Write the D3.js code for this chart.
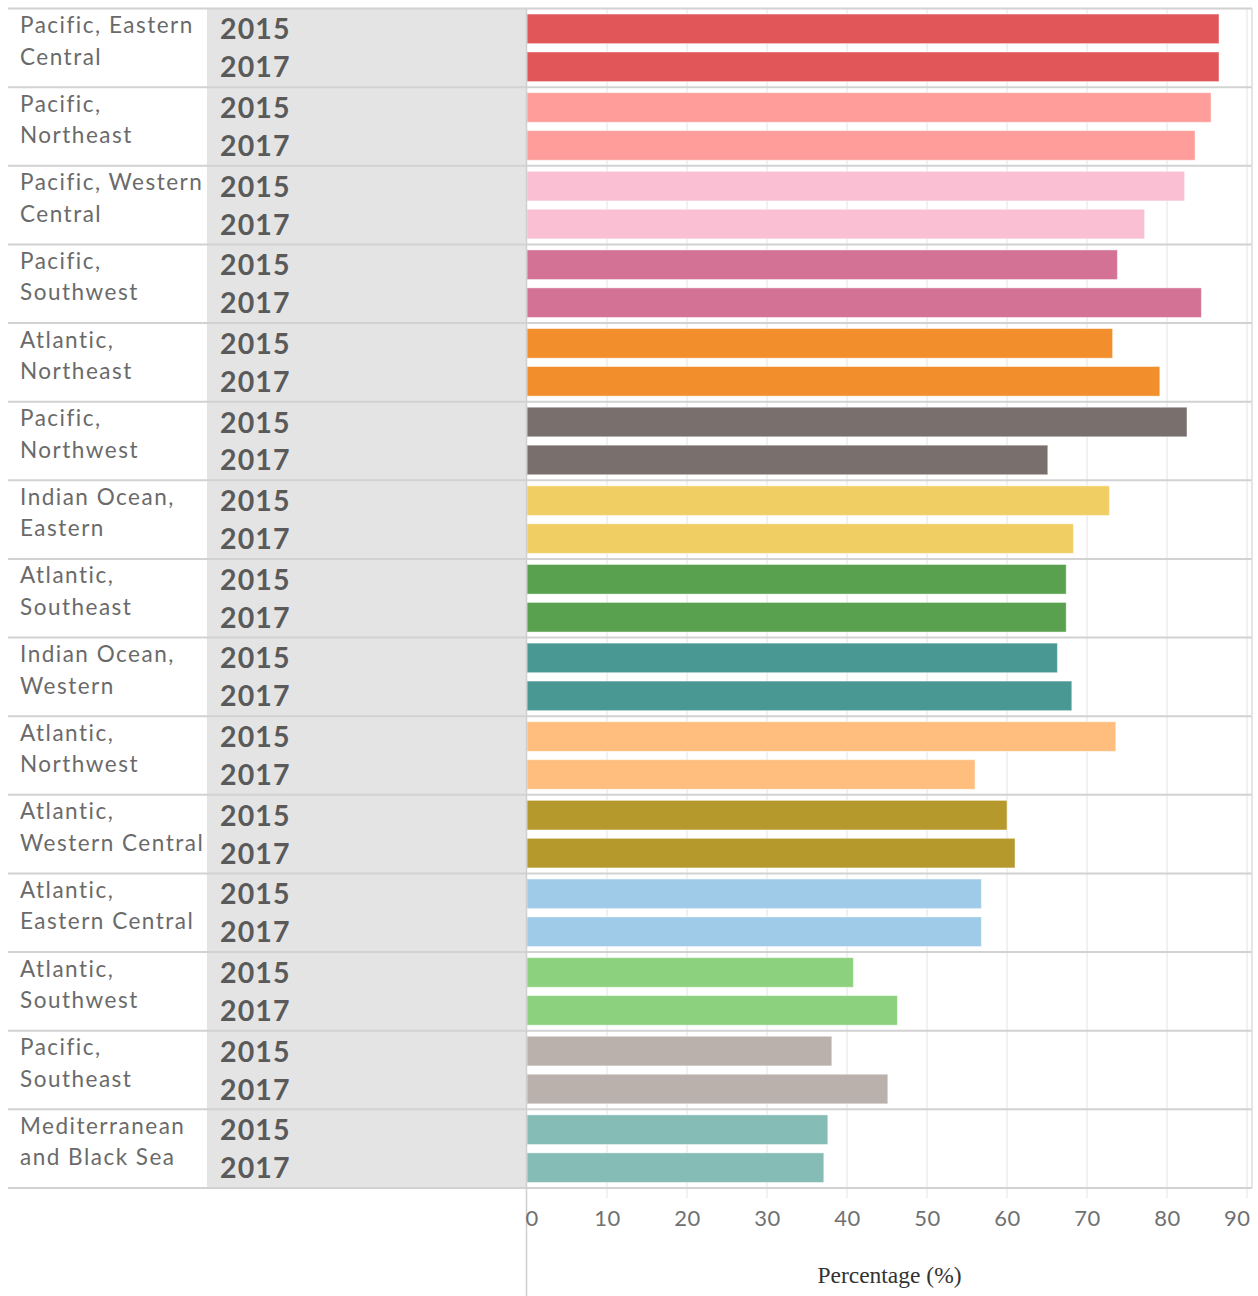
<!DOCTYPE html>
<html>
<head>
<meta charset="utf-8">
<script src="https://cdn.jsdelivr.net/npm/d3@7"></script>
<style>
  html, body { margin: 0; padding: 0; background: #fff; }
  svg { display: block; }
</style>
</head>
<body>
<svg id="chart" width="1258" height="1296"></svg>
<script>
// ---------- data ----------
const regions = [
  ["Pacific, Eastern", "Central"],
  ["Pacific,", "Northeast"],
  ["Pacific, Western", "Central"],
  ["Pacific,", "Southwest"],
  ["Atlantic,", "Northeast"],
  ["Pacific,", "Northwest"],
  ["Indian Ocean,", "Eastern"],
  ["Atlantic,", "Southeast"],
  ["Indian Ocean,", "Western"],
  ["Atlantic,", "Northwest"],
  ["Atlantic,", "Western Central"],
  ["Atlantic,", "Eastern Central"],
  ["Atlantic,", "Southwest"],
  ["Pacific,", "Southeast"],
  ["Mediterranean", "and Black Sea"]
];
const years = ["2015", "2017"];
const values2015 = [86.5, 85.5, 82.2, 73.8, 73.2, 82.5, 72.8, 67.4, 66.3, 73.6, 60.0, 56.8, 40.8, 38.1, 37.6];
const values2017 = [86.5, 83.5, 77.2, 84.3, 79.1, 65.1, 68.3, 67.4, 68.1, 56.0, 61.0, 56.8, 46.3, 45.1, 37.1];
const colors = ["#e15759", "#ff9d9a", "#fabfd2", "#d37295", "#f28e2b", "#79706e", "#f1ce63",
                "#59a14f", "#499894", "#ffbe7d", "#b6992d", "#a0cbe8", "#8cd17d", "#bab0ac", "#86bcb6"];
const xTicks = [0, 10, 20, 30, 40, 50, 60, 70, 80, 90];
const xTitle = "Percentage (%)";

// ---------- layout ----------
const svg = d3.select("#chart");
const leftX = 8, rightX = 1252;
const yearColX0 = 207, plotX0 = 527;
const plotTop = 8.5, plotBottom = 1188;

const regionKeys = regions.map((d, i) => i);
const y = d3.scaleBand().domain(regionKeys).range([plotTop, plotBottom]).padding(0);
const yInner = d3.scaleBand().domain(years).range([0, y.bandwidth()])
  .paddingInner(0.22).paddingOuter(0.146);
const x = d3.scaleLinear().domain([0, 90]).range([plotX0, plotX0 + 720]);

// grey year column
svg.append("rect").attr("x", yearColX0).attr("y", plotTop).attr("width", plotX0 - yearColX0)
  .attr("height", plotBottom - plotTop).attr("fill", "#e4e4e4");

// gridlines
svg.append("g").selectAll("line").data(xTicks.slice(1)).join("line")
  .attr("x1", d => x(d)).attr("x2", d => x(d))
  .attr("y1", plotTop).attr("y2", plotBottom + 10)
  .attr("stroke", "#ececec").attr("stroke-width", 1.5);

// bars
const rows = svg.append("g").selectAll("g").data(regionKeys).join("g")
  .attr("transform", i => `translate(0,${y(i)})`);

rows.each(function(i) {
  const g = d3.select(this);
  const vals = [values2015[i], values2017[i]];
  g.selectAll("rect.bar").data(years).join("rect")
    .attr("class", "bar")
    .attr("x", x(0))
    .attr("y", yr => yInner(yr))
    .attr("width", (yr, j) => x(vals[j]) - x(0))
    .attr("height", yInner.bandwidth())
    .attr("fill", colors[i])
    .attr("stroke", "rgba(255,255,255,0.45)")
    .attr("stroke-width", 1);
  // year labels
  g.selectAll("text.yr").data(years).join("text")
    .attr("class", "yr")
    .attr("x", 220)
    .attr("y", yr => yInner(yr) + yInner.bandwidth() / 2)
    .attr("dy", "0.37em")
    .attr("font-family", "Lato, sans-serif")
    .attr("font-weight", "bold")
    .attr("font-size", 28.5)
    .attr("letter-spacing", 1.1)
    .attr("fill", "#5a5a5a")
    .text(yr => yr);
  // region labels
  g.append("text")
    .attr("x", 20)
    .attr("font-family", "Lato, sans-serif")
    .attr("font-size", 22.5)
    .attr("letter-spacing", 1.5)
    .attr("fill", "#6a6a6a")
    .selectAll("tspan").data(regions[i]).join("tspan")
    .attr("x", 20)
    .attr("y", (d, k) => 24.5 + k * 31.5)
    .text(d => d);
});

// row separators (including top and bottom)
const seps = [plotTop].concat(regionKeys.map(i => y(i) + y.bandwidth()));
svg.append("g").selectAll("line").data(seps).join("line")
  .attr("x1", leftX).attr("x2", rightX)
  .attr("y1", d => d).attr("y2", d => d)
  .attr("stroke", "#d2d2d2").attr("stroke-width", 2);

// right border
svg.append("line").attr("x1", rightX).attr("x2", rightX).attr("y1", plotTop).attr("y2", plotBottom)
  .attr("stroke", "#dcdcdc").attr("stroke-width", 1.5);

// left plot border (extends into axis area)
svg.append("line").attr("x1", plotX0 - 0.5).attr("x2", plotX0 - 0.5).attr("y1", plotTop).attr("y2", 1296)
  .attr("stroke", "#cfcfcf").attr("stroke-width", 1.5);

// x axis
const axis = d3.axisBottom(x).tickValues(xTicks).tickSize(0).tickPadding(0);
const ax = svg.append("g").attr("transform", `translate(0,${plotBottom})`).call(axis);
ax.select(".domain").remove();
ax.selectAll("text")
  .attr("y", 30)
  .attr("dy", "0.36em")
  .attr("font-family", "Lato, sans-serif")
  .attr("font-size", 22)
  .attr("letter-spacing", 0.5)
  .attr("fill", "#707070")
  .attr("text-anchor", d => d === 0 ? "start" : (d === 90 ? "end" : "middle"))
  .attr("dx", d => d === 0 ? -2 : (d === 90 ? 3 : 0));

svg.append("text")
  .attr("x", (x(0) + rightX) / 2)
  .attr("y", 1275)
  .attr("dy", "0.36em")
  .attr("text-anchor", "middle")
  .attr("font-family", "'Liberation Serif', serif")
  .attr("font-size", 23.5)
  .attr("fill", "#333")
  .text(xTitle);
</script>
</body>
</html>
